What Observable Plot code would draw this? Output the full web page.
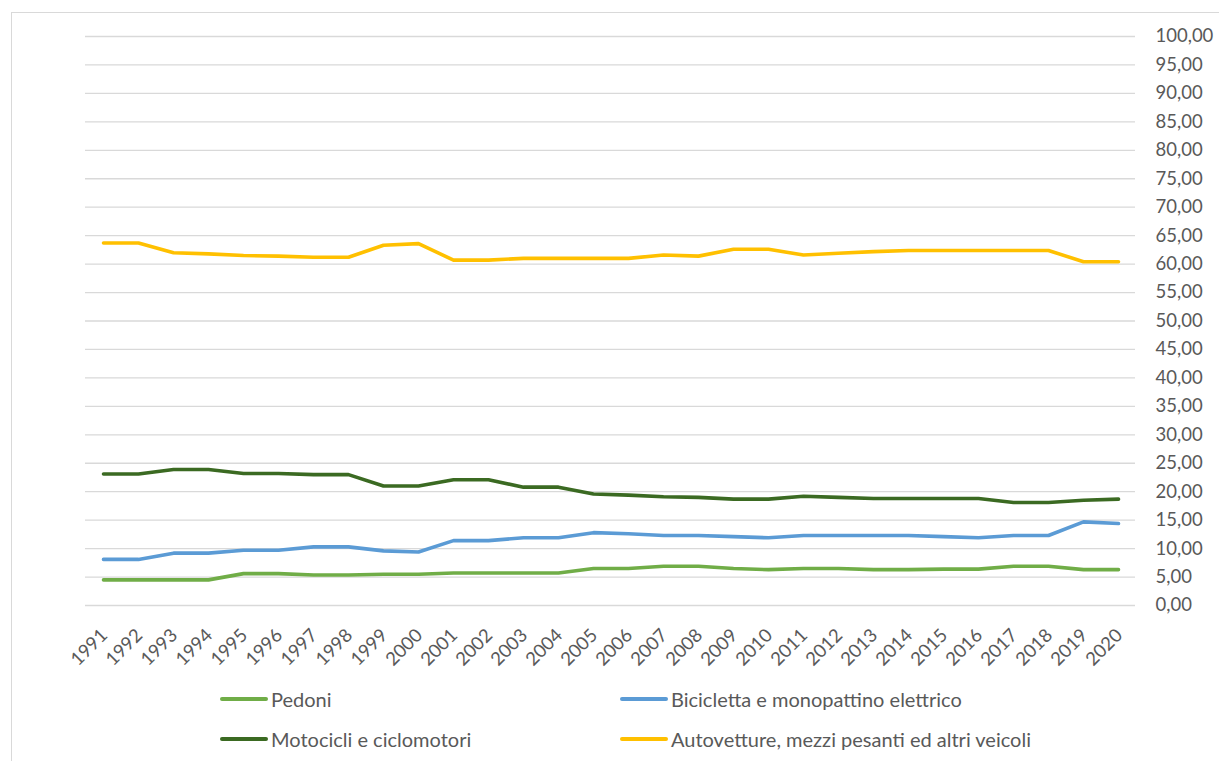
<!DOCTYPE html>
<html><head><meta charset="utf-8">
<script src="https://cdn.jsdelivr.net/npm/d3@7"></script>
<script src="https://cdn.jsdelivr.net/npm/@observablehq/plot@0.6"></script>
<style>
body{margin:0;background:#fff;font-family:Lato,sans-serif;}
#wrap{position:relative;width:1219px;height:761px;overflow:hidden;background:#fff}
#frame{position:absolute;left:11px;top:12px;width:1300px;height:900px;border:1.5px solid #d9d9d9;box-sizing:border-box}
#chart{position:absolute;left:0;top:0}
.leg{position:absolute;display:flex;align-items:center;font-size:20px;line-height:24px;color:#595959;white-space:nowrap}
.sw{display:inline-block;width:48px;height:4px;border-radius:2px;margin-right:3px}
</style></head>
<body><div id="wrap"><div id="frame"></div><div id="chart"></div><div id="legend"></div></div>
<script>
const years = [1991,1992,1993,1994,1995,1996,1997,1998,1999,2000,2001,2002,2003,2004,2005,2006,2007,2008,2009,2010,2011,2012,2013,2014,2015,2016,2017,2018,2019,2020];
const seriesNames = ["Pedoni","Bicicletta e monopattino elettrico","Motocicli e ciclomotori","Autovetture, mezzi pesanti ed altri veicoli"];
const seriesColors = ["#70ad47","#5b9bd5","#3b6a22","#ffc000"];
const pedoni = [4.5,4.5,4.5,4.5,5.6,5.6,5.35,5.35,5.5,5.5,5.7,5.7,5.7,5.7,6.5,6.5,6.9,6.9,6.5,6.3,6.5,6.5,6.3,6.3,6.4,6.4,6.9,6.9,6.3,6.3];
const bicicletta = [8.1,8.1,9.2,9.2,9.7,9.7,10.3,10.3,9.6,9.4,11.4,11.4,11.9,11.9,12.8,12.6,12.3,12.3,12.1,11.9,12.3,12.3,12.3,12.3,12.1,11.9,12.3,12.3,14.7,14.4];
const motocicli = [23.1,23.1,23.9,23.9,23.2,23.2,23.0,23.0,21.0,21.0,22.1,22.1,20.8,20.8,19.6,19.4,19.1,19.0,18.7,18.7,19.2,19.0,18.8,18.8,18.8,18.8,18.1,18.1,18.5,18.7];
const autovetture = [63.7,63.7,62.0,61.8,61.5,61.4,61.2,61.2,63.3,63.6,60.7,60.7,61.0,61.0,61.0,61.0,61.6,61.4,62.6,62.6,61.6,61.9,62.2,62.4,62.4,62.4,62.4,62.4,60.4,60.4];
const yTicks = [0,5,10,15,20,25,30,35,40,45,50,55,60,65,70,75,80,85,90,95,100];

const seriesValues = [pedoni, bicicletta, motocicli, autovetture];
const rows = seriesNames.flatMap((s, i) => years.map((y, j) => ({series: s, year: y, value: seriesValues[i][j]})));
const fmt = d => d3.format(".2f")(d).replace(".", ",");

const plot = Plot.plot({
  width: 1219, height: 680,
  marginLeft: 85, marginRight: 84, marginTop: 36, marginBottom: 75,
  style: {fontFamily: "Lato, sans-serif", fontSize: "18.5px", color: "#595959", background: "transparent"},
  x: {type: "point", domain: years, padding: 0.5, axis: null},
  y: {domain: [0, 100], axis: null},
  color: {domain: seriesNames, range: seriesColors},
  marks: [
    Plot.ruleY(yTicks, {stroke: "#d9d9d9", strokeWidth: 1.3}),
    Plot.axisY(yTicks, {anchor: "right", tickSize: 0, tickPadding: 20, tickFormat: fmt, fill: "#595959", label: null}),
    Plot.text(years, {x: d => d, text: d => String(d), frameAnchor: "bottom", dy: 31, dx: 5, rotate: -45, textAnchor: "end", lineAnchor: "bottom", fill: "#595959"}),
    Plot.line(rows, {x: "year", y: "value", z: "series", stroke: "series", strokeWidth: 3.6, strokeLinecap: "round", strokeLinejoin: "round"})
  ]
});
document.getElementById("chart").appendChild(plot);

const legendPos = [[220, 687], [620, 687], [220, 727], [620, 727]];
const leg = document.getElementById("legend");
seriesNames.forEach((s, i) => {
  const d = document.createElement("div");
  d.className = "leg";
  d.style.left = legendPos[i][0] + "px";
  d.style.top = legendPos[i][1] + "px";
  d.innerHTML = `<span class="sw" style="background:${seriesColors[i]}"></span><span>${s}</span>`;
  leg.appendChild(d);
});
</script>
</body></html>
